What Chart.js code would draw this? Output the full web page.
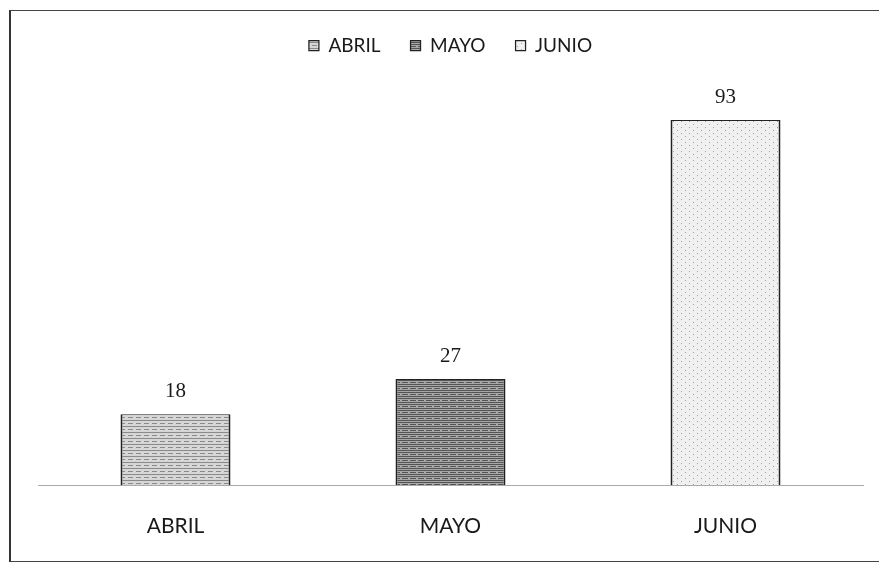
<!DOCTYPE html>
<html>
<head>
<meta charset="utf-8">
<script src="https://cdn.jsdelivr.net/npm/chart.js@4"></script>
<style>
    body { margin: 0; background: #fff; }
    #wrap { position: absolute; left: 0; top: 0; width: 879px; height: 566px; }
    #frame {
        position: absolute; left: 9px; top: 10px; width: 880px; height: 552px;
        border-left: 2px solid #333; border-top: 1px solid #444; border-bottom: 1px solid #444;
        box-sizing: border-box; pointer-events: none;
    }
</style>
</head>
<body>
<div id="wrap"><canvas id="chart"></canvas></div>
<div id="frame"></div>
<script>
// Monthly values
const months = ['ABRIL', 'MAYO', 'JUNIO'];
const abril = [18, null, null];
const mayo = [null, 27, null];
const junio = [null, null, 93];

// scanned-looking fills
function makePattern(base, ink, kind) {
    const c = document.createElement('canvas');
    c.width = 8; c.height = 6;
    const g = c.getContext('2d');
    g.fillStyle = base;
    g.fillRect(0, 0, 8, 6);
    g.fillStyle = ink;
    if (kind === 'lines') {
        g.fillRect(0, 0, 8, 1);
        g.fillRect(0, 3, 5, 1);
    } else if (kind === 'dense') {
        g.fillRect(0, 0, 8, 1);
        g.fillRect(0, 2, 8, 1);
        g.fillRect(2, 4, 6, 1);
    } else {
        g.fillRect(1, 1, 1, 1);
        g.fillRect(5, 4, 1, 1);
    }
    return document.getElementById('chart').getContext('2d').createPattern(c, 'repeat');
}

const fills = [
    makePattern('#d6d6d6', '#8a8a8a', 'lines'),
    makePattern('#a8a8a8', '#555555', 'dense'),
    makePattern('#f0f0f0', '#a0a0a0', 'dots')
];

// draws the value above each bar
const valueLabels = {
    id: 'valueLabels',
    afterDatasetsDraw(chart) {
        const ctx = chart.ctx;
        ctx.save();
        ctx.font = '21px "Liberation Serif", serif';
        ctx.fillStyle = '#1a1a1a';
        ctx.textAlign = 'center';
        ctx.textBaseline = 'bottom';
        chart.data.datasets.forEach((ds, i) => {
            const meta = chart.getDatasetMeta(i);
            meta.data.forEach((bar, j) => {
                const v = ds.data[j];
                if (v === null) return;
                ctx.fillText(v, bar.x, bar.y - 12);
            });
        });
        ctx.restore();
    }
};

new Chart(document.getElementById('chart'), {
    type: 'bar',
    data: {
        labels: months,
        datasets: [
            { label: 'ABRIL', data: abril, backgroundColor: fills[0] },
            { label: 'MAYO', data: mayo, backgroundColor: fills[1] },
            { label: 'JUNIO', data: junio, backgroundColor: fills[2] }
        ].map(ds => Object.assign(ds, {
            borderColor: '#222',
            borderWidth: { left: 2, right: 2, top: 1, bottom: 0 },
            skipNull: true,
            categoryPercentage: 0.4,
            barPercentage: 1
        }))
    },
    options: {
        responsive: true,
        maintainAspectRatio: false,
        animation: false,
        layout: { padding: { top: 6, bottom: 0, left: 38, right: 16 } },
        scales: {
            y: {
                display: false,
                min: 0,
                max: 107
            },
            x: {
                grid: { display: false, drawTicks: false },
                border: { color: '#aaa', dash: [3, 4] },
                ticks: {
                    color: '#1a1a1a',
                    padding: 29,
                    font: { family: 'Lato', size: 21 }
                },
                afterFit(scale) {
                    scale.height = 81;
                }
            }
        },
        plugins: {
            legend: {
                position: 'top',
                labels: {
                    boxWidth: 10,
                    boxHeight: 10,
                    padding: 30,
                    color: '#1a1a1a',
                    font: { family: 'Lato', size: 19 }
                }
            },
            tooltip: { enabled: false }
        }
    },
    plugins: [valueLabels]
});
</script>
</body>
</html>
